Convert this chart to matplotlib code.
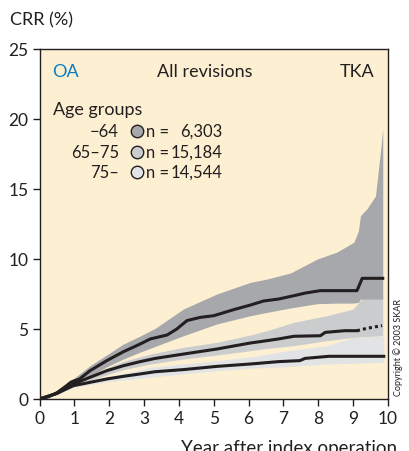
import numpy as np
import matplotlib
matplotlib.use("Agg")
import matplotlib.pyplot as plt

plt.rcParams['font.family'] = ['Lato', 'DejaVu Sans']

# ---- data ----
# age group -64
t_young = [0, 0.25, 0.5, 0.75, 0.9, 1.0, 1.15, 1.45, 1.93, 2.41, 2.89, 3.18, 3.66, 3.94,
           4.23, 4.61, 5.0, 5.57, 6.05, 6.43, 6.86, 7.3, 7.63, 8.06, 9.11, 9.26, 9.85]
crr_young = [0, 0.15, 0.45, 0.9, 1.2, 1.3, 1.43, 2.02, 2.74, 3.38, 3.93, 4.29, 4.57, 5.0,
             5.6, 5.83, 5.95, 6.38, 6.71, 7.0, 7.14, 7.38, 7.57, 7.74, 7.74, 8.62, 8.62]
tb_young = [0, 0.5, 1.0, 1.45, 1.93, 2.41, 2.89, 3.32, 4.13, 5.09, 6.05, 6.53, 7.2, 7.97,
            8.54, 9.02, 9.15, 9.21, 9.4, 9.64, 9.78, 9.85]
up_young = [0.05, 0.55, 1.5, 2.38, 3.15, 3.93, 4.5, 5.05, 6.43, 7.5, 8.33, 8.57, 9.0, 10.0,
            10.5, 11.2, 12.0, 13.1, 13.6, 14.5, 17.6, 19.3]
lo_young = [0.0, 0.35, 1.05, 1.67, 2.3, 2.86, 3.35, 3.76, 4.52, 5.36, 5.95, 6.19, 6.5, 6.81,
            6.85, 6.85, 6.9, 7.14, 7.14, 7.14, 7.14, 7.14]

# age group 65-75
t_mid = [0, 0.5, 0.97, 1.45, 1.93, 2.41, 2.89, 3.32, 4.13, 5.09, 6.05, 6.34, 6.86, 7.3,
         8.06, 8.2, 8.77, 9.11, 9.4, 9.83]
crr_mid = [0, 0.4, 1.07, 1.55, 2.02, 2.38, 2.67, 2.9, 3.21, 3.57, 4.0, 4.1, 4.29, 4.48,
           4.52, 4.76, 4.88, 4.88, 5.05, 5.24]
tb_mid = [0, 0.5, 1.0, 1.45, 2.41, 3.18, 4.13, 5.09, 6.05, 6.53, 7.3, 8.25, 9.0, 9.3, 9.85]
up_mid = [0, 0.45, 1.2, 1.75, 2.7, 3.21, 3.69, 4.05, 4.57, 4.88, 5.48, 5.95, 6.43, 7.3, 7.3]
lo_mid = [0, 0.35, 0.95, 1.35, 2.1, 2.5, 2.86, 3.14, 3.45, 3.62, 3.81, 4.17, 4.4, 4.45, 4.52]

# age group 75-
t_old = [0, 0.5, 0.97, 1.45, 1.93, 2.41, 2.89, 3.32, 4.13, 5.09, 6.05, 6.86, 7.47, 7.62,
         8.3, 9.88]
crr_old = [0, 0.4, 0.95, 1.19, 1.43, 1.62, 1.79, 1.95, 2.1, 2.33, 2.5, 2.67, 2.74, 2.9,
           3.05, 3.05]
tb_old = [0, 0.5, 1.0, 2.0, 3.18, 4.13, 5.09, 6.05, 7.0, 8.25, 9.0, 9.88]
up_old = [0, 0.45, 1.05, 1.6, 2.26, 2.5, 2.74, 3.0, 3.4, 3.81, 4.4, 4.5]
lo_old = [0, 0.35, 0.85, 1.25, 1.55, 1.8, 2.02, 2.2, 2.3, 2.5, 2.55, 2.62]

groups = ["\u221264", "65\u201375", "75\u2013"]
counts = ["6,303", "15,184", "14,544"]

# ---- colours ----
bg = "#fdf0d2"
c_dark = "#a7a8ab"
c_mid = "#cbcccd"
c_light = "#e2e3e4"
line_c = "#231f20"

fig = plt.figure(figsize=(4.09, 4.52), dpi=100)
ax = fig.add_axes([39.5/409, 52/452, 348.5/409, 350/452])
ax.set_facecolor(bg)

ax.fill_between(tb_old, lo_old, up_old, color=c_light, lw=0)
ax.fill_between(tb_mid, lo_mid, up_mid, color=c_mid, lw=0)
ax.fill_between(tb_young, lo_young, up_young, color=c_dark, lw=0)

ax.plot(t_old, crr_old, color=line_c, lw=2.2)
ax.plot(t_mid[:-2], crr_mid[:-2], color=line_c, lw=2.2)
ax.plot(t_mid[-3:], crr_mid[-3:], color=line_c, lw=2.2, ls=(0, (1, 1)))
ax.plot(t_young, crr_young, color=line_c, lw=2.2)

ax.set_xlim(0, 10)
ax.set_ylim(0, 25)
ax.set_xticks(range(0, 11))
ax.set_yticks([0, 5, 10, 15, 20, 25])
ax.tick_params(direction='out', length=5, width=1, labelsize=12.5, color=line_c,
               labelcolor=line_c, pad=3)
for s in ax.spines.values():
    s.set_linewidth(1)
    s.set_color(line_c)

# header texts
fs = 13
ax.text(0.036, 0.937, "OA", color="#0a7cc1", fontsize=fs, transform=ax.transAxes,
        va='center', ha='left')
ax.text(0.475, 0.937, "All revisions", color=line_c, fontsize=fs, transform=ax.transAxes,
        va='center', ha='center')
ax.text(0.96, 0.937, "TKA", color=line_c, fontsize=fs, transform=ax.transAxes,
        va='center', ha='right')

# legend
ax.text(0.039, 0.829, "Age groups", color=line_c, fontsize=13, transform=ax.transAxes,
        va='center', ha='left')
rows_y = [0.766, 0.706, 0.649]
for g, n, yy, c in zip(groups, counts, rows_y, [c_dark, c_mid, c_light]):
    ax.text(0.228, yy, g, fontsize=12, color=line_c, transform=ax.transAxes,
            va='center', ha='right')
    ax.scatter([0.28], [yy], s=80, color=c, edgecolor=line_c, linewidth=1,
               transform=ax.transAxes, zorder=5, clip_on=False)
    ax.text(0.305, yy, "n =", fontsize=12, color=line_c, transform=ax.transAxes,
            va='center', ha='left')
    ax.text(0.524, yy, n, fontsize=12, color=line_c, transform=ax.transAxes,
            va='center', ha='right')

fig.text(10/409, 1 - 20/452, "CRR (%)", fontsize=13, color=line_c, va='center', ha='left')
fig.text(0.972, -0.004, "Year after index operation", fontsize=13.5, color=line_c,
         va='baseline', ha='right')
fig.text(398/409, 1 - 347/452, "Copyright \u00a9 2003 SKAR", fontsize=6.5, color=line_c,
         rotation=90, va='center', ha='center')

fig.savefig("out.png", dpi=100)
